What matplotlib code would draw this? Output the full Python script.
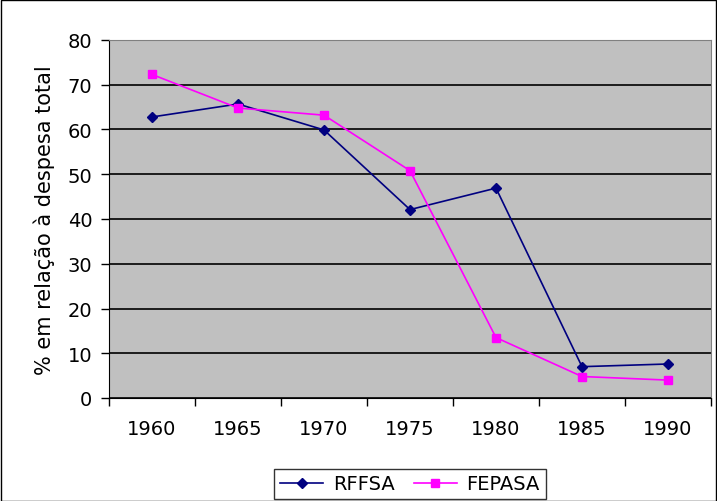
import matplotlib
matplotlib.use('Agg')
import matplotlib.pyplot as plt
from matplotlib.patches import Rectangle

anos = ['1960', '1965', '1970', '1975', '1980', '1985', '1990']
rffsa = [62.8, 65.7, 59.9, 42.1, 46.9, 7.0, 7.6]
fepasa = [72.3, 64.8, 63.2, 50.8, 13.5, 4.8, 4.0]

plt.rcParams['font.family'] = ['Verdana', 'DejaVu Sans']

W, H = 717, 502
fig = plt.figure(figsize=(W / 100, H / 100), dpi=100)
ax = fig.add_axes([109 / W, 1 - 399 / H, (711 - 109) / W, (399 - 41) / H])
ax.set_facecolor('#c0c0c0')

x = list(range(len(anos)))
ax.plot(x, rffsa, color='#000080', marker='D', markersize=5.5, lw=1.2, label='RFFSA')
ax.plot(x, fepasa, color='#ff00ff', marker='s', markersize=5.8, lw=1.2, label='FEPASA')

ax.set_xlim(-0.5, len(anos) - 0.5)
ax.set_ylim(0, 80)
ax.set_yticks(range(0, 81, 10))
ax.set_xticks(x)
ax.set_xticklabels(anos)
ax.set_xticks([i + 0.5 for i in range(-1, len(anos))], minor=True)
ax.tick_params(axis='x', which='major', length=0, pad=15, labelsize=14)
ax.tick_params(axis='x', which='minor', length=6, width=1, direction='out')
ax.tick_params(axis='y', length=6, width=1, direction='out', labelsize=14, pad=6)
ax.yaxis.grid(True, color='black', lw=1.2)
ax.set_axisbelow(True)
for s in ['top', 'right']:
    ax.spines[s].set_color('#808080')
ax.set_ylabel('% em relação à despesa total', fontsize=15, labelpad=9)

leg = ax.legend(loc='upper center', bbox_to_anchor=(0.5, -0.17), ncol=2, fontsize=14,
                frameon=True, fancybox=False, edgecolor='black', handlelength=2.2,
                columnspacing=1.0, handletextpad=0.5, borderpad=0.3)
leg.get_frame().set_linewidth(1)

fig.patches.append(Rectangle((0.5 / W, 0.5 / H), 1 - 1.5 / W, 1 - 1.5 / H, transform=fig.transFigure,
                             fill=False, edgecolor='black', lw=1))

fig.savefig('out.png', dpi=100)
